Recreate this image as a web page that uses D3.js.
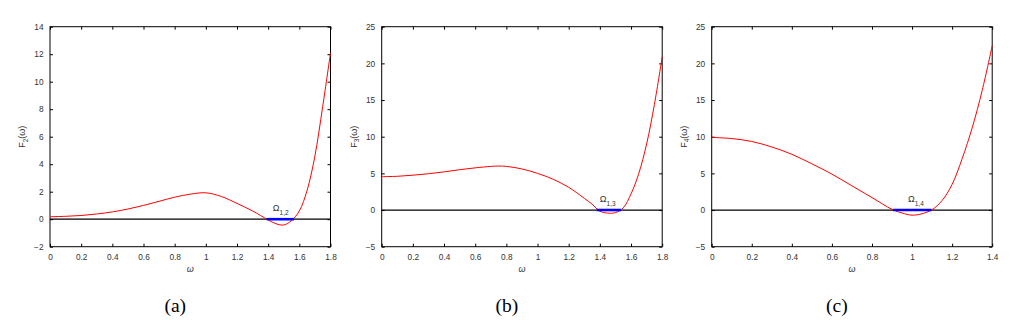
<!DOCTYPE html>
<html>
<head>
<meta charset="utf-8">
<script src="https://cdn.jsdelivr.net/npm/d3@7"></script>
<style>
  body { margin: 0; background: #fff; }
  svg { display: block; }
  .axis text { font-family: "Liberation Sans", Arial, sans-serif; font-size: 8.3px; fill: #333; }
  .axis line { stroke: #000; stroke-width: 1; }
  .axis .domain { display: none; }
  .frame { fill: none; stroke: #000; stroke-width: 1; }
  .label { font-family: "Liberation Sans", Arial, sans-serif; fill: #333; }
  .caption { font-family: "Liberation Serif", "Times New Roman", serif; font-size: 19.5px; fill: #000; }
</style>
</head>
<body>
<div id="chart"></div>
<script>
// panel (a): F_2(omega)
const omegaA = [0, 0.1, 0.2, 0.3, 0.4, 0.5, 0.6, 0.7, 0.8, 0.9, 1.0, 1.1, 1.2, 1.3, 1.4, 1.45, 1.5, 1.55, 1.6, 1.65, 1.7, 1.75, 1.8];
const fA     = [0.18, 0.21, 0.27, 0.38, 0.53, 0.74, 1.0, 1.3, 1.6, 1.82, 1.92, 1.65, 1.15, 0.6, -0.05, -0.33, -0.42, -0.1, 0.6, 2.1, 4.6, 8.2, 12.1];
const rootsA = [1.39, 1.565];
const xTicksA = [0, 0.2, 0.4, 0.6, 0.8, 1, 1.2, 1.4, 1.6, 1.8];
const yTicksA = [-2, 0, 2, 4, 6, 8, 10, 12, 14];

// panel (b): F_3(omega)
const omegaB = [0, 0.1, 0.2, 0.3, 0.4, 0.5, 0.6, 0.7, 0.75, 0.8, 0.9, 1.0, 1.1, 1.2, 1.3, 1.35, 1.4, 1.45, 1.5, 1.55, 1.6, 1.65, 1.7, 1.75, 1.8];
const fB     = [4.55, 4.6, 4.75, 4.95, 5.2, 5.5, 5.75, 5.95, 6.0, 5.95, 5.6, 5.0, 4.2, 3.1, 1.6, 0.8, -0.15, -0.42, -0.35, 0.3, 2.2, 5.0, 9.0, 14.4, 20.9];
const rootsB = [1.38, 1.535];
const xTicksB = [0, 0.2, 0.4, 0.6, 0.8, 1, 1.2, 1.4, 1.6, 1.8];
const yTicksB = [-5, 0, 5, 10, 15, 20, 25];

// panel (c): F_4(omega)
const omegaC = [0, 0.1, 0.2, 0.3, 0.4, 0.5, 0.6, 0.7, 0.8, 0.9, 0.95, 1.0, 1.05, 1.1, 1.15, 1.2, 1.25, 1.3, 1.35, 1.4];
const fC     = [9.9, 9.75, 9.35, 8.6, 7.6, 6.3, 4.9, 3.3, 1.7, 0.1, -0.4, -0.7, -0.5, 0.05, 1.3, 3.5, 7.0, 11.2, 16.3, 22.4];
const rootsC = [0.905, 1.097];
const xTicksC = [0, 0.2, 0.4, 0.6, 0.8, 1, 1.2, 1.4];
const yTicksC = [-5, 0, 5, 10, 15, 20, 25];

const svg = d3.select('#chart').append('svg')
    .attr('width', 1030)
    .attr('height', 328);

class FPlot {

    constructor(_config, _data) {
        this.config = {
            left: _config.left,
            top: 26.7,
            width: 280.5,
            height: 220,
            xTicks: _config.xTicks,
            yTicks: _config.yTicks,
            index: _config.index,
            caption: _config.caption,
            omegaLabel: _config.omegaLabel
        };
        this.data = _data.omega.map((w, i) => ({w: w, f: _data.f[i]}));
        this.roots = _data.roots;
        this.initVis();
    }

    initVis() {
        let vis = this;
        const c = vis.config;

        vis.xScale = d3.scaleLinear()
            .domain(d3.extent(c.xTicks))
            .range([0, c.width]);

        vis.yScale = d3.scaleLinear()
            .domain(d3.extent(c.yTicks))
            .range([c.height, 0]);

        vis.chart = svg.append('g')
            .attr('transform', `translate(${c.left},${c.top})`);

        // ticks point inward on all four sides
        vis.chart.append('g')
            .attr('class', 'axis x-axis')
            .attr('transform', `translate(0,${c.height})`)
            .call(d3.axisBottom(vis.xScale).tickValues(c.xTicks).tickFormat(d3.format('~g'))
                .tickSizeInner(-3).tickSizeOuter(0).tickPadding(7));

        vis.chart.append('g')
            .attr('class', 'axis')
            .call(d3.axisTop(vis.xScale).tickValues(c.xTicks).tickFormat('')
                .tickSizeInner(-3).tickSizeOuter(0));

        vis.chart.append('g')
            .attr('class', 'axis y-axis')
            .call(d3.axisLeft(vis.yScale).tickValues(c.yTicks).tickFormat(d3.format('~g'))
                .tickSizeInner(-3).tickSizeOuter(0).tickPadding(6.5));

        vis.chart.append('g')
            .attr('class', 'axis')
            .attr('transform', `translate(${c.width},0)`)
            .call(d3.axisRight(vis.yScale).tickValues(c.yTicks).tickFormat('')
                .tickSizeInner(-3).tickSizeOuter(0));

        vis.chart.append('rect')
            .attr('class', 'frame')
            .attr('width', c.width)
            .attr('height', c.height);

        // axis titles
        const yl = vis.chart.append('text')
            .attr('class', 'label')
            .attr('transform', `translate(-25,${c.height / 2}) rotate(-90)`)
            .attr('text-anchor', 'middle')
            .attr('font-size', '9px');
        yl.append('tspan').text('F');
        yl.append('tspan').attr('font-size', '6.5px').attr('dy', 2.5).text(c.index);
        yl.append('tspan').attr('dy', -2.5).text('(ω)');

        vis.chart.append('text')
            .attr('class', 'label')
            .attr('x', c.width / 2)
            .attr('y', c.height + 25.5)
            .attr('text-anchor', 'middle')
            .attr('font-size', '9px')
            .attr('font-style', 'italic')
            .text('ω');

        svg.append('text')
            .attr('class', 'caption')
            .attr('x', c.left + c.width / 2 - 15)
            .attr('y', 312)
            .attr('text-anchor', 'middle')
            .text(c.caption);

        vis.renderVis();
    }

    renderVis() {
        let vis = this;
        const c = vis.config;

        // zero line
        vis.chart.append('line')
            .attr('x1', 0)
            .attr('x2', c.width)
            .attr('y1', vis.yScale(0))
            .attr('y2', vis.yScale(0))
            .attr('stroke', '#000')
            .attr('stroke-width', 1.3);

        const line = d3.line()
            .x(d => vis.xScale(d.w))
            .y(d => vis.yScale(d.f))
            .curve(d3.curveCatmullRom.alpha(0.5));

        vis.chart.append('path')
            .datum(vis.data)
            .attr('d', line)
            .attr('fill', 'none')
            .attr('stroke', '#ff0000')
            .attr('stroke-width', 1);

        // interval Omega where F < 0
        vis.chart.append('line')
            .attr('x1', vis.xScale(vis.roots[0]))
            .attr('x2', vis.xScale(vis.roots[1]))
            .attr('y1', vis.yScale(0))
            .attr('y2', vis.yScale(0))
            .attr('stroke', '#0000ff')
            .attr('stroke-width', 2.6);

        const ol = vis.chart.append('text')
            .attr('class', 'label')
            .attr('x', vis.xScale(c.omegaLabel))
            .attr('y', vis.yScale(0) - 8)
            .attr('font-size', '9px');
        ol.append('tspan').text('Ω');
        ol.append('tspan').attr('font-size', '6.5px').attr('dy', 3.5).text('1,' + c.index);
    }
}

new FPlot({left: 50, xTicks: xTicksA, yTicks: yTicksA, index: '2', caption: '(a)', omegaLabel: 1.43},
    {omega: omegaA, f: fA, roots: rootsA});
new FPlot({left: 381.7, xTicks: xTicksB, yTicks: yTicksB, index: '3', caption: '(b)', omegaLabel: 1.40},
    {omega: omegaB, f: fB, roots: rootsB});
new FPlot({left: 711.7, xTicks: xTicksC, yTicks: yTicksC, index: '4', caption: '(c)', omegaLabel: 0.98},
    {omega: omegaC, f: fC, roots: rootsC});
</script>
</body>
</html>
